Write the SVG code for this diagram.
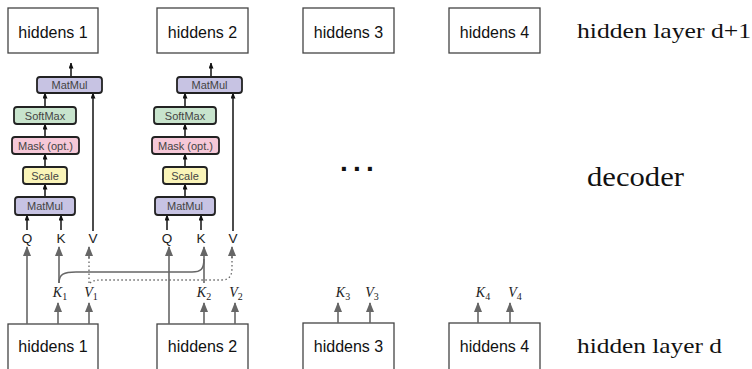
<svg xmlns="http://www.w3.org/2000/svg" width="752" height="369" viewBox="0 0 752 369">
<style>
.hb{fill:#fff;stroke:#444;stroke-width:1.3}
.ht{font-family:"Liberation Sans",Arial,sans-serif;font-size:16px;fill:#111;text-anchor:middle}
.op{stroke:#222;stroke-width:1.8}
.ot{font-family:"Liberation Sans",Arial,sans-serif;font-size:11px;fill:#444;text-anchor:middle}
.mm{fill:#c7c3e3}.sm{fill:#c8e4cd}.mk{fill:#f6c8d8}.sc{fill:#faf4b8}
.qkv{font-family:"Liberation Sans",Arial,sans-serif;font-size:13.5px;fill:#222;text-anchor:middle}
.ba{stroke:#111;stroke-width:1.5;fill:none}
.ga{stroke:#666;stroke-width:1.6;fill:none}
.dt{stroke:#666;stroke-width:1.3;fill:none;stroke-dasharray:1.5 2.5}
.kv{font-family:"Liberation Serif","Times New Roman",serif;font-style:italic;font-size:14px;fill:#222;text-anchor:middle}
.sub{font-style:normal;font-size:10px}
.rl{font-family:"Liberation Serif","Times New Roman",serif;fill:#111}
</style>
<defs>
<marker id="ah" markerWidth="10" markerHeight="8" viewBox="0 0 10 8" refX="9" refY="4" orient="auto" markerUnits="userSpaceOnUse">
<path d="M0,0 L10,4 L0,8 Z" fill="#666"/>
</marker>
<marker id="bh" markerWidth="6" markerHeight="5" viewBox="0 0 6 5" refX="5.5" refY="2.5" orient="auto" markerUnits="userSpaceOnUse">
<path d="M0,0 L6,2.5 L0,5 Z" fill="#111"/>
</marker>
<g id="att">
<line class="ba" x1="71" y1="77" x2="71" y2="63" marker-end="url(#bh)"/>
<line class="ba" x1="45" y1="107" x2="45" y2="93" marker-end="url(#bh)"/>
<line class="ba" x1="45" y1="137" x2="45" y2="124" marker-end="url(#bh)"/>
<line class="ba" x1="45" y1="167" x2="45" y2="154" marker-end="url(#bh)"/>
<line class="ba" x1="45" y1="197" x2="45" y2="184" marker-end="url(#bh)"/>
<line class="ba" x1="27" y1="230" x2="27" y2="215" marker-end="url(#bh)"/>
<line class="ba" x1="61" y1="230" x2="61" y2="215" marker-end="url(#bh)"/>
<line class="ba" x1="93" y1="231" x2="93" y2="93" marker-end="url(#bh)"/>
<rect class="op mm" x="37" y="77" width="65" height="16" rx="3"/>
<text class="ot" x="69.5" y="89">MatMul</text>
<rect class="op sm" x="14" y="107" width="62" height="17" rx="3"/>
<text class="ot" x="45" y="119.5">SoftMax</text>
<rect class="op mk" x="12" y="137" width="67" height="17" rx="3"/>
<text class="ot" x="45.5" y="149.5">Mask (opt.)</text>
<rect class="op sc" x="23" y="167" width="44" height="17" rx="3"/>
<text class="ot" x="45" y="179.5">Scale</text>
<rect class="op mm" x="15" y="197" width="60" height="18" rx="3"/>
<text class="ot" x="45" y="210">MatMul</text>
<text class="qkv" x="27" y="243">Q</text>
<text class="qkv" x="61" y="243">K</text>
<text class="qkv" x="93" y="243">V</text>
</g>
</defs>

<g id="decoder1"><use href="#att"/></g>
<g id="decoder2"><use href="#att" transform="translate(140,0)"/></g>

<g id="top1"><rect class="hb" x="8" y="8" width="90" height="45"/><text class="ht" x="53" y="38">hiddens 1</text></g>
<g id="top2"><rect class="hb" x="157" y="8" width="91" height="45"/><text class="ht" x="202.5" y="38">hiddens 2</text></g>
<g id="top3"><rect class="hb" x="303" y="8" width="91" height="45"/><text class="ht" x="348.5" y="38">hiddens 3</text></g>
<g id="top4"><rect class="hb" x="449" y="8" width="91" height="45"/><text class="ht" x="494.5" y="38">hiddens 4</text></g>

<g id="bot1"><rect class="hb" x="8" y="324" width="90" height="50"/><text class="ht" x="53" y="352">hiddens 1</text></g>
<g id="bot2"><rect class="hb" x="157" y="324" width="91" height="50"/><text class="ht" x="202.5" y="352">hiddens 2</text></g>
<g id="bot3"><rect class="hb" x="303" y="323" width="91" height="50"/><text class="ht" x="348.5" y="352">hiddens 3</text></g>
<g id="bot4"><rect class="hb" x="449" y="323" width="91" height="50"/><text class="ht" x="494.5" y="352">hiddens 4</text></g>

<g id="connectors">
<line class="ga" x1="27" y1="324" x2="27" y2="247" marker-end="url(#ah)"/>
<line class="ga" x1="59" y1="283" x2="59" y2="247" marker-end="url(#ah)"/>
<line class="dt" x1="89" y1="283" x2="89" y2="255"/>
<line class="ga" x1="89" y1="258" x2="89" y2="247" stroke-width="0.1" marker-end="url(#ah)"/>
<path class="ga" d="M59,283 C59,274 64,272 76,272 L192,272 C201,272 204,269 204,259"/>
<path class="dt" d="M90,283 C93,280 97,280 106,280 L222,280 C229,280 232,276 232,268 L232,255"/>
<line class="ga" x1="58" y1="324" x2="58" y2="303" marker-end="url(#ah)"/>
<line class="ga" x1="89" y1="324" x2="89" y2="303" marker-end="url(#ah)"/>

<line class="ga" x1="169" y1="324" x2="169" y2="247" marker-end="url(#ah)"/>
<line class="ga" x1="204" y1="283" x2="204" y2="247" marker-end="url(#ah)"/>
<line class="ga" x1="232" y1="258" x2="232" y2="247" stroke-width="0.1" marker-end="url(#ah)"/>
<line class="ga" x1="204" y1="324" x2="204" y2="303" marker-end="url(#ah)"/>
<line class="ga" x1="235" y1="324" x2="235" y2="303" marker-end="url(#ah)"/>

<line class="ga" x1="338" y1="323" x2="338" y2="303" marker-end="url(#ah)"/>
<line class="ga" x1="370" y1="323" x2="370" y2="303" marker-end="url(#ah)"/>
<line class="ga" x1="478" y1="323" x2="478" y2="303" marker-end="url(#ah)"/>
<line class="ga" x1="510" y1="323" x2="510" y2="303" marker-end="url(#ah)"/>
</g>

<g id="kvlabels">
<text class="kv" x="60" y="297">K<tspan class="sub" dy="3">1</tspan></text>
<text class="kv" x="91" y="297">V<tspan class="sub" dy="3">1</tspan></text>
<text class="kv" x="204" y="297">K<tspan class="sub" dy="3">2</tspan></text>
<text class="kv" x="236" y="297">V<tspan class="sub" dy="3">2</tspan></text>
<text class="kv" x="343" y="297">K<tspan class="sub" dy="3">3</tspan></text>
<text class="kv" x="372" y="297">V<tspan class="sub" dy="3">3</tspan></text>
<text class="kv" x="483" y="297">K<tspan class="sub" dy="3">4</tspan></text>
<text class="kv" x="515" y="297">V<tspan class="sub" dy="3">4</tspan></text>
</g>

<text x="340" y="171" font-family="Liberation Sans,Arial,sans-serif" font-weight="bold" font-size="28" letter-spacing="5.2" fill="#111">...</text>

<text class="rl" x="577" y="38" font-size="21" textLength="174" lengthAdjust="spacingAndGlyphs">hidden layer d+1</text>
<text class="rl" x="587" y="186" font-size="27" textLength="97" lengthAdjust="spacingAndGlyphs">decoder</text>
<text class="rl" x="577" y="353" font-size="21" textLength="145" lengthAdjust="spacingAndGlyphs">hidden layer d</text>
</svg>
